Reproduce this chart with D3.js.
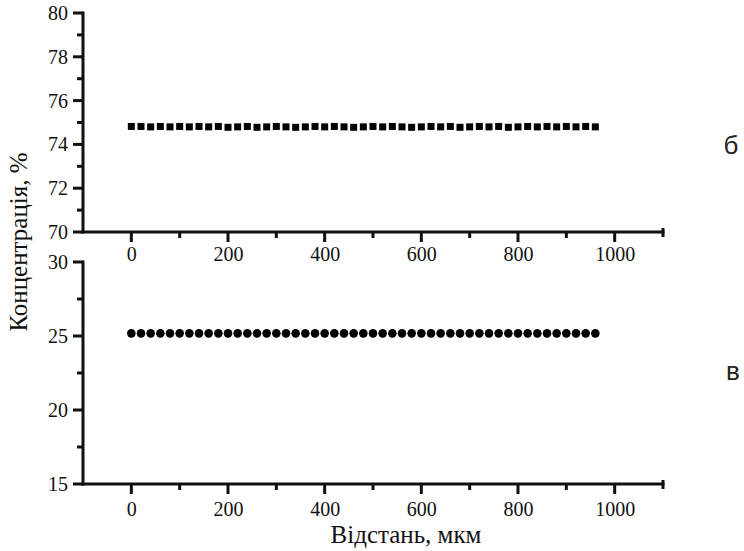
<!DOCTYPE html>
<html>
<head>
<meta charset="utf-8">
<script src="https://cdn.jsdelivr.net/npm/d3@7"></script>
<style>
  body { margin: 0; background: #fff; }
</style>
</head>
<body>
<div id="chart"></div>
<script>
// distance along the sample, мкм
var distance = [0, 20, 40, 60, 80, 100, 120, 140, 160, 180, 200, 220, 240, 260, 280, 300,
  320, 340, 360, 380, 400, 420, 440, 460, 480, 500, 520, 540, 560, 580, 600, 620, 640,
  660, 680, 700, 720, 740, 760, 780, 800, 820, 840, 860, 880, 900, 920, 940, 960];

// panel б (squares)
var concB = [74.82, 74.82, 74.80, 74.82, 74.80, 74.82, 74.80, 74.82, 74.80, 74.82, 74.78,
  74.80, 74.82, 74.78, 74.80, 74.82, 74.80, 74.78, 74.80, 74.82, 74.80, 74.82, 74.80, 74.78,
  74.80, 74.82, 74.80, 74.82, 74.80, 74.78, 74.80, 74.82, 74.80, 74.82, 74.78, 74.80, 74.82,
  74.80, 74.82, 74.78, 74.80, 74.82, 74.80, 74.82, 74.80, 74.82, 74.80, 74.82, 74.80];

// panel в (circles)
var concV = [25.18, 25.18, 25.18, 25.18, 25.18, 25.18, 25.18, 25.18, 25.18, 25.18, 25.18,
  25.18, 25.18, 25.18, 25.18, 25.18, 25.18, 25.18, 25.18, 25.18, 25.18, 25.18, 25.18, 25.18,
  25.18, 25.18, 25.18, 25.18, 25.18, 25.18, 25.18, 25.18, 25.18, 25.18, 25.18, 25.18, 25.18,
  25.18, 25.18, 25.18, 25.18, 25.18, 25.18, 25.18, 25.18, 25.18, 25.18, 25.18, 25.18];

var xTicks = [0, 200, 400, 600, 800, 1000];
var xMinor = [100, 300, 500, 700, 900];
var topTicks = [70, 72, 74, 76, 78, 80];
var topMinor = [71, 73, 75, 77, 79];
var botTicks = [15, 20, 25, 30];
var botMinor = [17.5, 22.5, 27.5];

var ink = "#111";
var serif = "'Liberation Serif', 'Times New Roman', serif";
var lw = 3;

var svg = d3.select("#chart").append("svg")
  .attr("width", 744)
  .attr("height", 551);

var x = d3.scaleLinear().domain([-100, 1100]).range([83, 663]);
var yTop = d3.scaleLinear().domain([70, 80]).range([232, 13]);
var yBot = d3.scaleLinear().domain([15, 30]).range([484, 262]);

function labels(g) {
  g.select(".domain").remove();
  g.selectAll("line").remove();
  g.selectAll("text")
    .attr("fill", ink)
    .style("font-family", serif)
    .style("font-size", "20px");
}

function xAxis(yPos, pad) {
  var g = svg.append("g").attr("transform", "translate(0," + yPos + ")");
  g.call(d3.axisBottom(x).tickValues(xTicks).tickSize(0)
      .tickPadding(10 + pad).tickFormat(d3.format("d")))
    .call(labels);
  g.append("rect")
    .attr("x", x(-100) - lw / 2).attr("y", -lw / 2)
    .attr("width", x(1100) - x(-100) + lw).attr("height", lw)
    .attr("fill", ink);
  g.selectAll("rect.major").data(xTicks).enter().append("rect")
    .attr("class", "major")
    .attr("x", function(d) { return x(d) - lw / 2; })
    .attr("y", 0).attr("width", lw).attr("height", 10)
    .attr("fill", ink);
  g.selectAll("rect.minor").data(xMinor).enter().append("rect")
    .attr("class", "minor")
    .attr("x", function(d) { return x(d) - lw / 2; })
    .attr("y", 0).attr("width", lw).attr("height", 6)
    .attr("fill", ink);
  // little end cap on the right
  g.append("rect")
    .attr("x", x(1100) - lw / 2).attr("y", -4)
    .attr("width", lw).attr("height", 9)
    .attr("fill", ink);
}

function yAxis(scale, major, minor) {
  var g = svg.append("g").attr("transform", "translate(" + x(-100) + ",0)");
  g.call(d3.axisLeft(scale).tickValues(major).tickSize(0).tickPadding(15))
    .call(labels);
  g.append("rect")
    .attr("x", -lw / 2).attr("y", scale.range()[1] - lw / 2)
    .attr("width", lw).attr("height", scale.range()[0] - scale.range()[1] + lw)
    .attr("fill", ink);
  g.selectAll("rect.major").data(major).enter().append("rect")
    .attr("class", "major")
    .attr("x", -10).attr("y", function(d) { return scale(d) - lw / 2; })
    .attr("width", 10).attr("height", lw)
    .attr("fill", ink);
  g.selectAll("rect.minor").data(minor).enter().append("rect")
    .attr("class", "minor")
    .attr("x", -6).attr("y", function(d) { return scale(d) - lw / 2; })
    .attr("width", 6).attr("height", lw)
    .attr("fill", ink);
}

yAxis(yTop, topTicks, topMinor);
xAxis(232, 5);
yAxis(yBot, botTicks, botMinor);
xAxis(484, 8);

// squares
svg.append("g").selectAll("rect")
  .data(distance)
  .enter().append("rect")
    .attr("x", function(d) { return x(d) - 3.5; })
    .attr("y", function(d, i) { return yTop(concB[i]) - 3.5; })
    .attr("width", 7)
    .attr("height", 7)
    .attr("fill", "#000");

// circles
svg.append("g").selectAll("circle")
  .data(distance)
  .enter().append("circle")
    .attr("cx", function(d) { return x(d); })
    .attr("cy", function(d, i) { return yBot(concV[i]); })
    .attr("r", 4.3)
    .attr("fill", "#000");

// axis titles
svg.append("text")
  .text("Концентрація, %")
  .attr("transform", "translate(27,242) rotate(-90)")
  .attr("text-anchor", "middle")
  .style("font-family", serif)
  .style("font-size", "25px")
  .attr("fill", ink);

svg.append("text")
  .text("Відстань, мкм")
  .attr("x", 406)
  .attr("y", 543)
  .attr("text-anchor", "middle")
  .style("font-family", serif)
  .style("font-size", "25px")
  .attr("fill", ink);

// panel letters
svg.append("text")
  .text("б")
  .attr("x", 731)
  .attr("y", 154)
  .attr("text-anchor", "middle")
  .style("font-family", "'Liberation Sans', Arial, sans-serif")
  .style("font-size", "26px")
  .attr("fill", "#222");

svg.append("text")
  .text("в")
  .attr("x", 733)
  .attr("y", 380)
  .attr("text-anchor", "middle")
  .style("font-family", "'Liberation Sans', Arial, sans-serif")
  .style("font-size", "26px")
  .attr("fill", "#222");
</script>
</body>
</html>
